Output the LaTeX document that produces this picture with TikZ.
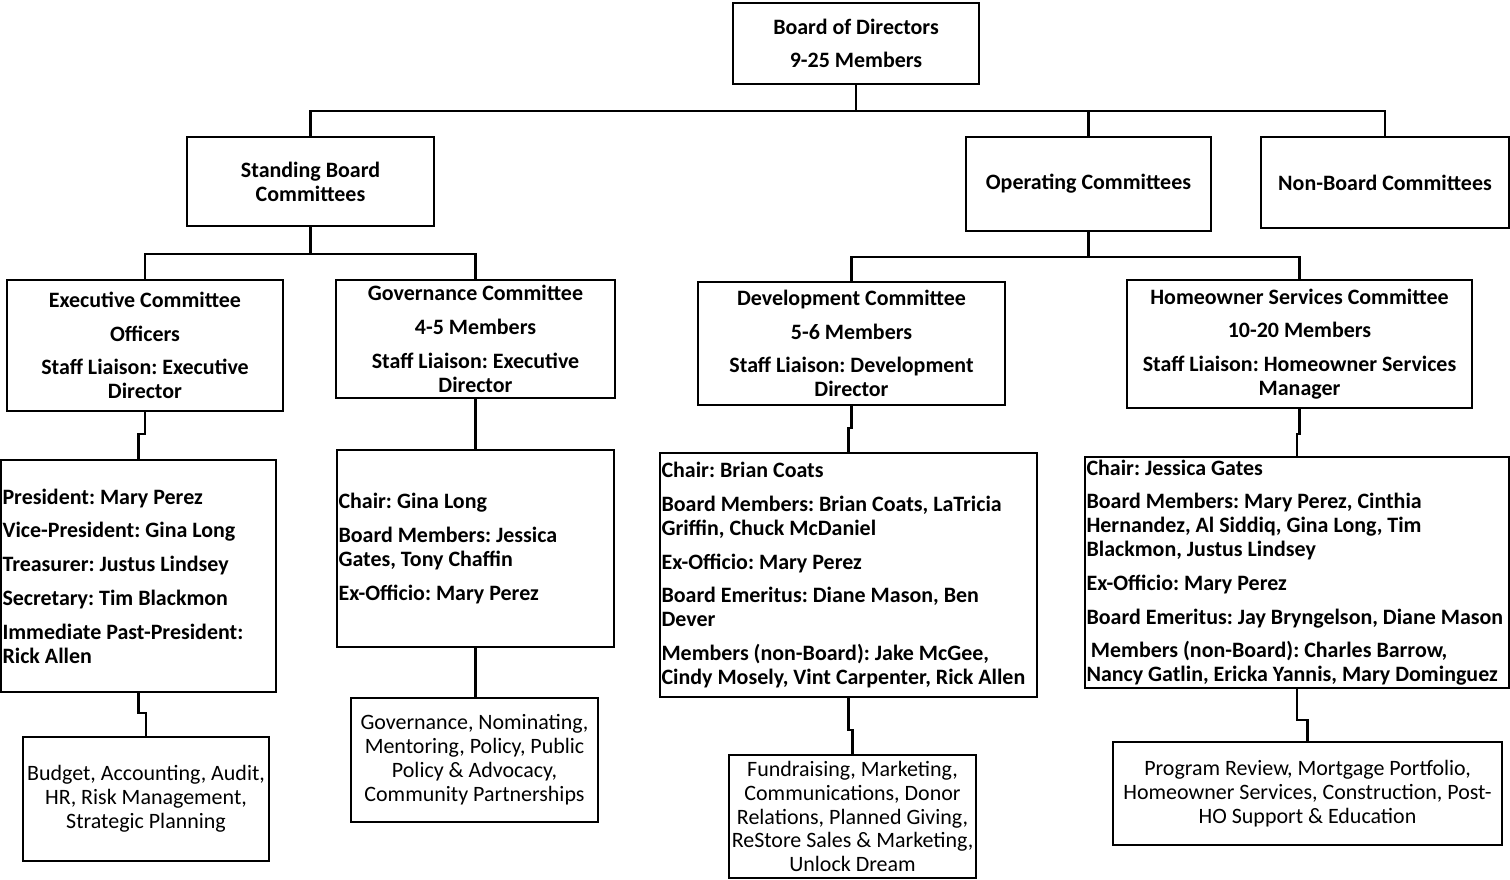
\documentclass[tikz,border=0pt]{standalone}
\usepackage{fontspec}
\setmainfont{Carlito}
\usepackage{tikz}
\colorlet{lcol}{black}
\newcommand{\nohyph}{\hyphenpenalty=10000\relax}
\tikzstyle{box}=[draw=lcol, line width=1.2pt, rectangle, inner sep=0.03cm]
\tikzstyle{head}=[box, align=center, font=\frenchspacing\bfseries\fontsize{12.5}{13.6}\selectfont]
\tikzstyle{names}=[box, align=flush left, font=\frenchspacing\nohyph\bfseries\fontsize{12.5}{13.6}\selectfont]
\tikzstyle{tasks}=[box, align=center, font=\frenchspacing\fontsize{12.5}{13.6}\selectfont]
\tikzstyle{conn}=[line width=1.2pt, lcol]

\begin{document}
\begin{tikzpicture}[x=0.02cm, y=-0.02cm]
	\fill[white] (0,0) rectangle (1510,879);
	\useasboundingbox (0,0) rectangle (1510,879);

	%%% Top level
	\node[head, minimum width=4.92cm, minimum height=1.62cm] (board) at (856,43.5)
		{Board of Directors\\[5.6pt] 9-25 Members};
	\node[head, minimum width=4.94cm, minimum height=1.78cm] (standing) at (310.5,181.5)
		{Standing Board\\ Committees};
	\node[head, minimum width=4.90cm, minimum height=1.88cm] (operating) at (1088.5,184)
		{Operating Committees};
	\node[head, minimum width=4.96cm, minimum height=1.82cm] (nonboard) at (1385,182.5)
		{Non-Board Committees};

	%%% Committees
	\node[head, minimum width=5.52cm, minimum height=2.62cm] (exec) at (145,345.5)
		{Executive Committee\\[5.6pt] Officers\\[5.6pt] Staff Liaison: Executive\\ Director};
	\node[head, minimum width=5.58cm, minimum height=2.36cm] (gov) at (475.5,339)
		{Governance Committee\\[5.6pt] 4-5 Members\\[5.6pt] Staff Liaison: Executive\\ Director};
	\node[head, minimum width=6.14cm, minimum height=2.46cm] (dev) at (851.5,343.5)
		{Development Committee\\[5.6pt] 5-6 Members\\[5.6pt] Staff Liaison: Development\\ Director};
	\node[head, minimum width=6.90cm, minimum height=2.56cm] (ho) at (1299.5,344)
		{Homeowner Services Committee\\[5.6pt] 10-20 Members\\[5.6pt] Staff Liaison: Homeowner Services\\ Manager};

	%%% Members
	\node[names, text width=5.44cm, minimum height=4.64cm] (execlist) at (138.5,576)
		{President: Mary Perez\\[5.6pt] Vice-President: Gina Long\\[5.6pt] Treasurer: Justus Lindsey\\[5.6pt]
		 Secretary: Tim Blackmon\\[5.6pt] Immediate Past-President:\\ Rick Allen};
	\node[names, text width=5.48cm, minimum height=3.94cm] (govlist) at (475.5,548.5)
		{Chair: Gina Long\\[5.6pt] Board Members: Jessica\\ Gates, Tony Chaffin\\[5.6pt] Ex-Officio: Mary Perez};
	\node[names, text width=7.48cm, minimum height=4.88cm] (devlist) at (848.5,575)
		{Chair: Brian Coats\\[5.6pt] Board Members: Brian Coats, LaTricia\\ Griffin, Chuck McDaniel\\[5.6pt]
		 Ex-Officio: Mary Perez\\[5.6pt] Board Emeritus: Diane Mason, Ben\\ Dever\\[5.6pt]
		 Members (non-Board): Jake McGee,\\ Cindy Mosely, Vint Carpenter, Rick Allen};
	\node[names, text width=8.42cm, minimum height=4.62cm] (holist) at (1297,572.5)
		{Chair: Jessica Gates\\[5.6pt] Board Members: Mary Perez, Cinthia\\ Hernandez, Al Siddiq, Gina Long, Tim\\ Blackmon, Justus Lindsey\\[5.6pt]
		 Ex-Officio: Mary Perez\\[5.6pt] Board Emeritus: Jay Bryngelson, Diane Mason\\[5.6pt]
		 \hspace*{0.2em}Members (non-Board): Charles Barrow,\\ Nancy Gatlin, Ericka Yannis, Mary Dominguez};

	%%% Subcommittees
	\node[tasks, minimum width=4.92cm, minimum height=2.48cm] (exectask) at (146,799)
		{Budget, Accounting, Audit,\\ HR, Risk Management,\\ Strategic Planning};
	\node[tasks, minimum width=4.94cm, minimum height=2.48cm] (govtask) at (474.5,760)
		{Governance, Nominating,\\ Mentoring, Policy, Public\\ Policy \& Advocacy,\\ Community Partnerships};
	\node[tasks, minimum width=4.94cm, minimum height=2.46cm] (devtask) at (852.5,816.5)
		{Fundraising, Marketing,\\ Communications, Donor\\ Relations, Planned Giving,\\ ReStore Sales \& Marketing,\\ Unlock Dream};
	\node[tasks, minimum width=7.78cm, minimum height=2.06cm] (hotask) at (1307.5,793.5)
		{Program Review, Mortgage Portfolio,\\ Homeowner Services, Construction, Post-\\ HO Support \& Education};

	%%% Board to groups
	\draw[conn] (board.south) -- ++(0,26) coordinate (bus1);
	\draw[conn] (bus1) -| (standing.north);
	\draw[conn] (bus1) -| (operating.north);
	\draw[conn] (bus1) -| (nonboard.north);

	%%% Groups to committees
	\draw[conn] (standing.south) -- ++(0,27) coordinate (bus2);
	\draw[conn] (bus2) -| (exec.north);
	\draw[conn] (bus2) -| (gov.north);
	\draw[conn] (operating.south) -- ++(0,25) coordinate (bus3);
	\draw[conn] (bus3) -| (dev.north);
	\draw[conn] (bus3) -| (ho.north);

	%%% Committees to members
	\draw[conn] (exec.south) -- ++(0,22) -| (execlist.north);
	\draw[conn] (gov.south) -- (govlist.north);
	\draw[conn] (dev.south) -- ++(0,22) -| (devlist.north);
	\draw[conn] (ho.south) -- ++(0,25) -| (holist.north);

	%%% Members to subcommittees
	\draw[conn] (execlist.south) -- ++(0,20) -| (exectask.north);
	\draw[conn] (govlist.south) -- (govlist.south |- govtask.north);
	\draw[conn] (devlist.south) -- ++(0,32) -| (devtask.north);
	\draw[conn] (holist.south) -- ++(0,31) -| (hotask.north);
\end{tikzpicture}
\end{document}
